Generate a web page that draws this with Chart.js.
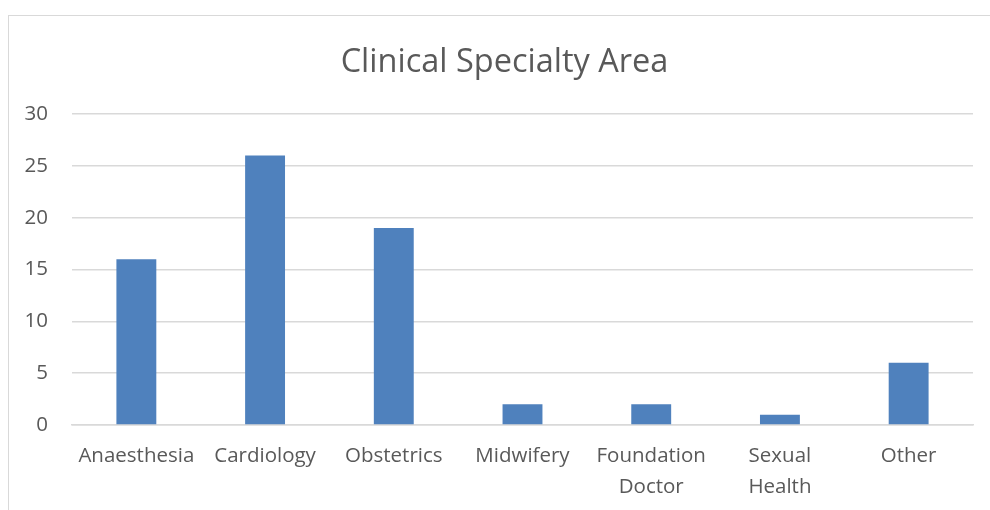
<!DOCTYPE html>
<html>
<head>
<meta charset="utf-8">
<script src="https://cdn.jsdelivr.net/npm/chart.js@4/dist/chart.umd.min.js"></script>
<style>
  html, body { margin: 0; padding: 0; background: #fff; }
  #wrap { position: relative; width: 990px; height: 510px; }
  #frame { position: absolute; left: 8px; top: 15px; right: 0; bottom: 0;
           border-left: 1.5px solid #d9d9d9; border-top: 1.5px solid #d9d9d9; pointer-events: none; }
  canvas { position: absolute; left: 0; top: 0; }
</style>
</head>
<body>
<div id="wrap">
  <canvas id="c" width="990" height="510"></canvas>
  <div id="frame"></div>
</div>
<script>
const chartTitle = "Clinical Specialty Area";
const categories = [
  "Anaesthesia",
  "Cardiology",
  "Obstetrics",
  "Midwifery",
  ["Foundation", "Doctor"],
  ["Sexual", "Health"],
  "Other"
];
const values = [16, 26, 19, 2, 2, 1, 6];
const yTicks = [0, 5, 10, 15, 20, 25, 30];

const textColor = "#595959";
const fontFamily = "'Open Sans', 'Noto Sans', sans-serif";

// shift the title box so the title is centred like the reference
const titleShift = {
  id: "titleShift",
  afterLayout(chart) {
    if (chart.titleBlock) { chart.titleBlock.left = 36; }
  }
};

new Chart(document.getElementById("c"), {
  type: "bar",
  data: {
    labels: categories,
    datasets: [{
      data: values,
      backgroundColor: "#4F81BD",
      borderWidth: 0,
      categoryPercentage: 1,
      barPercentage: 0.31
    }]
  },
  plugins: [titleShift],
  options: {
    responsive: false,
    animation: false,
    devicePixelRatio: 1,
    layout: { padding: { left: 0, right: 17, top: 0, bottom: 0 } },
    plugins: {
      legend: { display: false },
      tooltip: { enabled: false },
      title: {
        display: true,
        text: chartTitle,
        color: textColor,
        font: { family: fontFamily, size: 32.5, weight: "normal" },
        padding: { top: 43, bottom: 32 }
      }
    },
    scales: {
      x: {
        grid: { display: false, drawTicks: false },
        border: { display: true, color: "#d9d9d9", width: 1.5 },
        ticks: {
          color: textColor,
          font: { family: fontFamily, size: 20.5, lineHeight: 1.5 },
          padding: 16,
          maxRotation: 0,
          autoSkip: false
        },
        afterFit: s => { s.height = 85; }
      },
      y: {
        min: 0,
        max: 30,
        afterBuildTicks: s => { s.ticks = yTicks.map(v => ({ value: v })); },
        grid: { color: "#d9d9d9", lineWidth: 1.5, drawTicks: false },
        border: { display: false },
        ticks: {
          color: textColor,
          font: { family: fontFamily, size: 20.5 },
          padding: 24
        },
        afterFit: s => { s.width = 72; }
      }
    }
  }
});
</script>
</body>
</html>
